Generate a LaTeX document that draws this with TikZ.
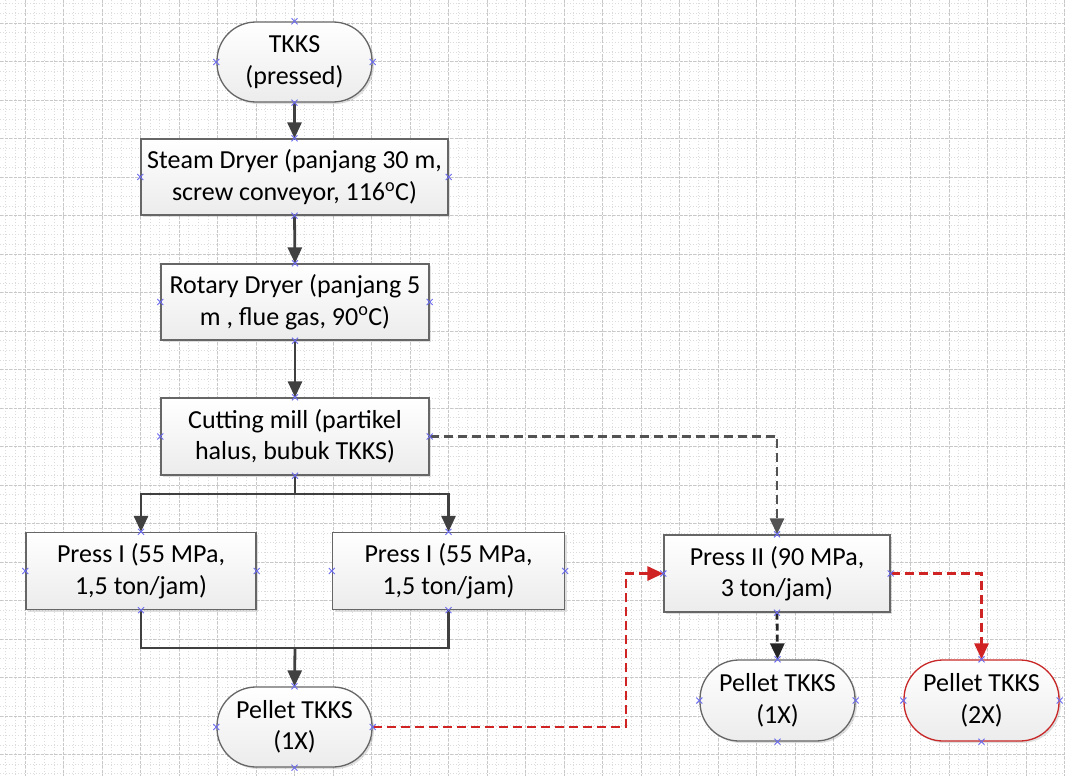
\documentclass[tikz,border=0pt]{standalone}
\usepackage{fontspec}
\setmainfont{Carlito}
\usetikzlibrary{arrows.meta,shadows,calc}
\definecolor{linegray}{HTML}{404040}
\definecolor{boxborder}{HTML}{666666}
\definecolor{redline}{HTML}{D02424}
\definecolor{redborder}{HTML}{C82828}
\definecolor{gridmaj}{HTML}{C8C8C8}
\definecolor{gridmin}{HTML}{DCDCDC}
\definecolor{markblue}{HTML}{6A6AF0}
\tikzset{
  procbox/.style={rectangle, draw=boxborder, line width=1.3pt, top color=white, bottom color=gray!15,
    drop shadow={shadow xshift=2pt, shadow yshift=-2pt, opacity=0.25, fill=gray},
    align=center, inner sep=2pt, font=\fontsize{26}{31.5}\selectfont},
  termbox/.style={procbox, rounded corners=39pt},
  solidarrow/.style={draw=linegray, line width=2.8pt, -{Triangle[length=16pt,width=14pt]}},
  solidline/.style={draw=linegray, line width=2.8pt},
  greydash/.style={draw=linegray!90, line width=2.8pt, dash pattern=on 9pt off 5pt, -{Triangle[length=16pt,width=14pt]}},
  blackdash/.style={draw=black!85, line width=2.8pt, dash pattern=on 7pt off 4pt, -{Triangle[length=16pt,width=14pt]}},
  reddash/.style={draw=redline, line width=2.8pt, dash pattern=on 9pt off 5pt, -{Triangle[length=16pt,width=14pt]}},
  cpmark/.style={draw=markblue, line width=0.9pt}
}
\begin{document}
\begin{tikzpicture}[x=1pt,y=-1pt]
\useasboundingbox (0,0) rectangle (1065,776);
\fill[white] (0,0) rectangle (1065,776);
% minor grid
\begin{scope}
\clip (0,0) rectangle (1065,776);
\foreach \i in {-2,...,110} {
  \draw[gridmin, line width=0.6pt, dash pattern=on 1pt off 2pt] ({25+9.625*\i},0) -- ({25+9.625*\i},776);
}
\foreach \j in {-2,...,80} {
  \draw[gridmin, line width=0.6pt, dash pattern=on 1pt off 2pt] (0,{23+9.625*\j}) -- (1065,{23+9.625*\j});
}
\foreach \i in {-1,...,27} {
  \draw[gridmaj, line width=0.8pt, dash pattern=on 3pt off 1.5pt] ({25+38.5*\i},0) -- ({25+38.5*\i},776);
}
\foreach \j in {-1,...,20} {
  \draw[gridmaj, line width=0.8pt, dash pattern=on 3pt off 1.5pt] (0,{23+38.5*\j}) -- (1065,{23+38.5*\j});
}
\end{scope}

% nodes
\node[termbox, minimum width=155pt, minimum height=80pt] (tkks) at (294.5,62) {TKKS\\(pressed)};
\node[procbox, minimum width=307pt, minimum height=76pt] (steam) at (294.5,177) {Steam Dryer (panjang 30 m,\\screw conveyor, 116\textsuperscript{o}C)};
\node[procbox, minimum width=268pt, minimum height=76pt] (rotary) at (295,302) {Rotary Dryer (panjang 5\\m , flue gas, 90\textsuperscript{o}C)};
\node[procbox, minimum width=268pt, minimum height=77pt] (cutting) at (295,436.5) {Cutting mill (partikel\\halus, bubuk TKKS)};
\node[procbox, minimum width=230pt, minimum height=77pt] (p1a) at (141,571) {Press I (55 MPa,\\1,5 ton/jam)};
\node[procbox, minimum width=232pt, minimum height=77pt] (p1b) at (448.5,571) {Press I (55 MPa,\\1,5 ton/jam)};
\node[termbox, minimum width=155pt, minimum height=80pt] (pel1) at (294.5,727) {Pellet TKKS\\(1X)};
\node[procbox, minimum width=226pt, minimum height=77pt] (p2) at (777,573.5) {Press II (90 MPa,\\3 ton/jam)};
\node[termbox, minimum width=155pt, minimum height=81pt] (pel2) at (777.5,700.5) {Pellet TKKS\\(1X)};
\node[termbox, draw=redborder, minimum width=155pt, minimum height=81pt] (pel3) at (981.5,700.5) {Pellet TKKS\\(2X)};

% helper coordinates
\coordinate (br) at (295,494);
\coordinate (mg) at (295,648);
\coordinate (rc) at (626,727);

% connectors
\draw[solidarrow] (tkks.south) -- (steam.north);
\draw[solidarrow] (steam.south) -- (rotary.north);
\draw[solidarrow] (rotary.south) -- (cutting.north);
\draw[solidline] (cutting.south) -- (br);
\draw[solidarrow] (br) -| (p1a.north);
\draw[solidarrow] (br) -| (p1b.north);
\draw[solidline] (p1a.south) |- (mg);
\draw[solidline] (p1b.south) |- (mg);
\draw[solidarrow] (mg) -- (pel1.north);
\draw[greydash] (cutting.east) -| (p2.north);
\draw[reddash] (pel1.east) -- (rc) |- (p2.west);
\draw[blackdash] (p2.south) -- (pel2.north);
\draw[reddash] (p2.east) -| (pel3.north);

% connection point markers
\foreach \n in {tkks,steam,rotary,cutting,p1a,p1b,pel1,p2,pel2,pel3} {
  \foreach \a in {north,south,east,west} {
    \draw[cpmark] ($(\n.\a)+(-3,-3)$) -- ($(\n.\a)+(3,3)$);
    \draw[cpmark] ($(\n.\a)+(-3,3)$) -- ($(\n.\a)+(3,-3)$);
  }
}
\end{tikzpicture}
\end{document}
